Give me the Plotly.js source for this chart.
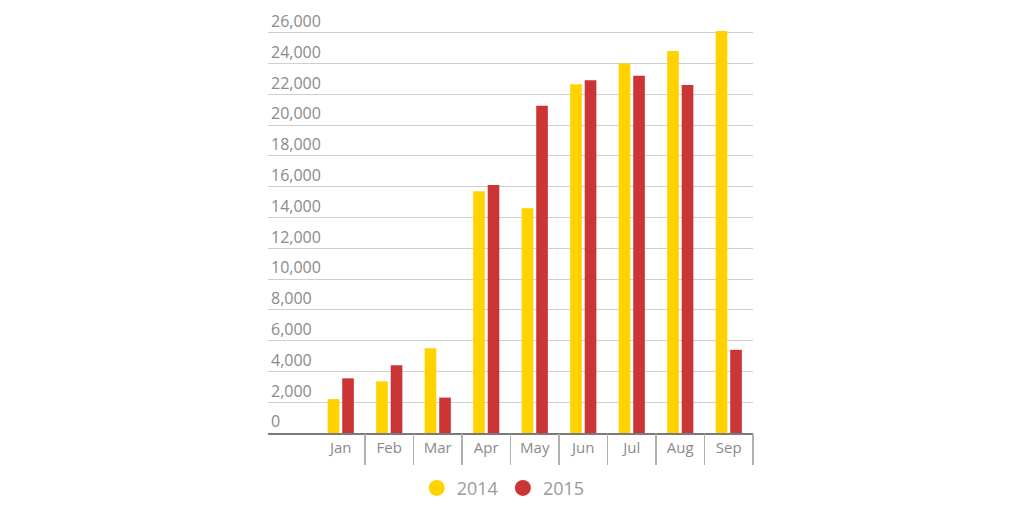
<!DOCTYPE html>
<html>
<head>
<meta charset="utf-8">
<script src="https://cdn.plot.ly/plotly-3.0.1.min.js"></script>
<style>
  html, body { margin: 0; padding: 0; background: #fff; }
  #chart { width: 1024px; height: 512px; }
</style>
</head>
<body>
<div id="chart"></div>
<script>
// Monthly totals, two years side by side
const months = ['Jan', 'Feb', 'Mar', 'Apr', 'May', 'Jun', 'Jul', 'Aug', 'Sep'];
const values2014 = [2200, 3350, 5500, 15700, 14600, 22650, 24000, 24800, 26100];
const values2015 = [3550, 4400, 2300, 16100, 21250, 22900, 23200, 22600, 5400];
const seriesNames = ['2014', '2015'];
const seriesColors = ['#FFD200', '#CC3535'];

// One empty slot before January leaves room for the value labels
const xRange = [-1.5, months.length - 0.5];
// Divider positions sit halfway between neighbouring months
const dividerVals = months.map((m, i) => i - 0.5).concat([months.length - 0.5]);

const textGrey = '#8a8a8a';
const fontFamily = '"Open Sans", "Noto Sans", sans-serif';

const barTraces = [values2014, values2015].map((vals, i) => ({
  type: 'bar',
  x: months,
  y: vals,
  name: seriesNames[i],
  marker: { color: seriesColors[i] },
  showlegend: false,
  hoverinfo: 'x+y+name'
}));

// Round legend keys (carried by the divider axis)
const legendTraces = seriesNames.map((name, i) => ({
  type: 'scatter',
  mode: 'markers',
  x: [null],
  y: [null],
  xaxis: 'x2',
  name: name,
  marker: { color: seriesColors[i], size: 18, symbol: 'circle' },
  showlegend: true
}));

const layout = {
  width: 1024,
  height: 512,
  margin: { l: 268, r: 271, t: 8, b: 79, pad: 0, autoexpand: false },
  paper_bgcolor: '#ffffff',
  plot_bgcolor: '#ffffff',
  barmode: 'group',
  bargap: 0.4,
  bargroupgap: 0.2,
  font: { family: fontFamily, size: 16, color: textGrey },
  xaxis: {
    type: 'category',
    categoryorder: 'array',
    categoryarray: months,
    range: xRange,
    showgrid: false,
    zeroline: false,
    showline: true,
    linecolor: '#7a7a7a',
    linewidth: 2,
    ticks: '',
    ticklabelstandoff: 0,
    tickfont: { family: fontFamily, size: 15, color: textGrey },
    fixedrange: true
  },
  xaxis2: {
    type: 'linear',
    overlaying: 'x',
    anchor: 'y',
    side: 'bottom',
    range: xRange,
    tickmode: 'array',
    tickvals: dividerVals,
    showticklabels: false,
    ticks: 'outside',
    ticklen: 31,
    tickwidth: 1.5,
    tickcolor: '#b0b0b0',
    showgrid: false,
    zeroline: false,
    showline: false,
    fixedrange: true
  },
  yaxis: {
    range: [0, 27600],
    dtick: 2000,
    tickformat: ',d',
    showgrid: true,
    gridcolor: '#cfcfcf',
    gridwidth: 1,
    zeroline: false,
    showline: false,
    ticks: '',
    ticklabelposition: 'inside top',
    tickfont: { family: fontFamily, size: 16, color: textGrey },
    fixedrange: true
  },
  showlegend: true,
  legend: {
    orientation: 'h',
    x: 0.485,
    xanchor: 'center',
    y: -0.13,
    yanchor: 'middle',
    font: { family: fontFamily, size: 18, color: '#9a9a9a' },
    bgcolor: 'rgba(0,0,0,0)'
  }
};

Plotly.newPlot('chart', barTraces.concat(legendTraces), layout, { displayModeBar: false, staticPlot: true });
</script>
</body>
</html>
